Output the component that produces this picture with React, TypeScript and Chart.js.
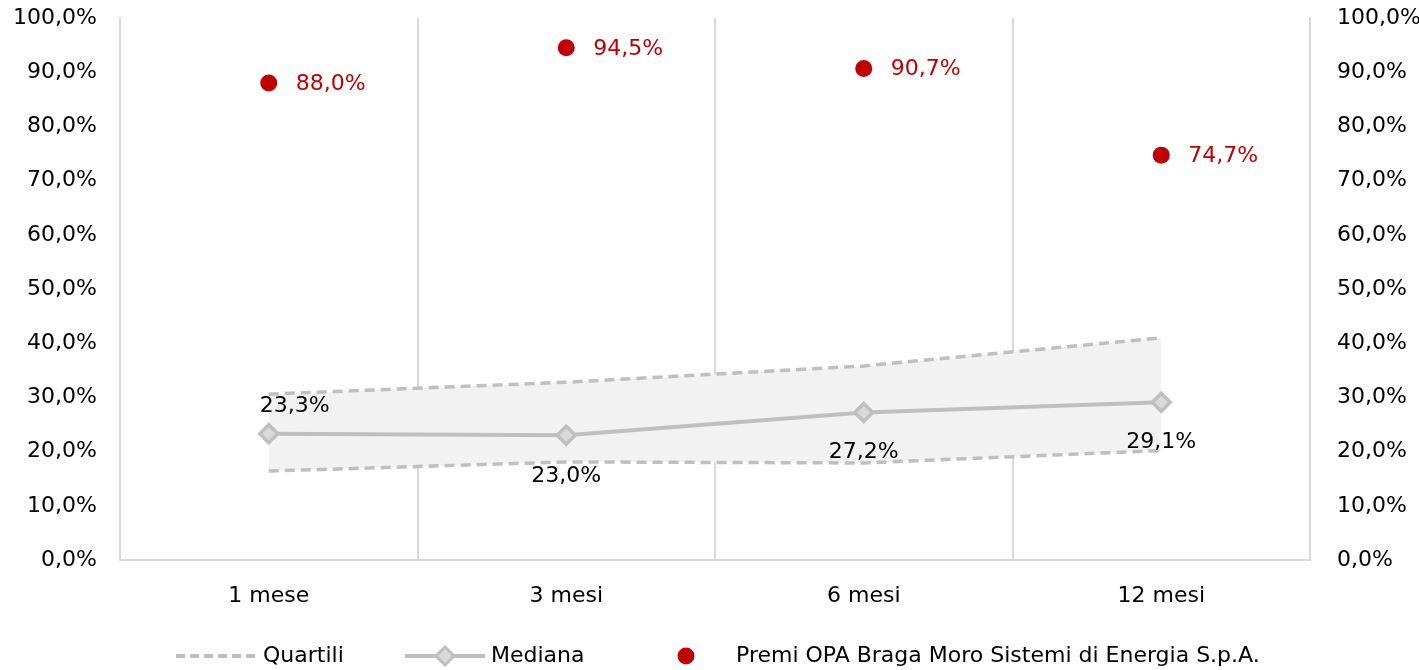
import React, { useEffect, useRef } from "react";
import { Chart, registerables } from "chart.js";

Chart.register(...registerables);

const categories = ["1 mese", "3 mesi", "6 mesi", "12 mesi"];
const upperQuartile = [30.6, 32.8, 35.8, 41.0];
const lowerQuartile = [16.4, 18.1, 17.9, 20.2];
const median = [23.3, 23.0, 27.2, 29.1];
const premi = [88.0, 94.5, 90.7, 74.7];
const yTicks = [0, 10, 20, 30, 40, 50, 60, 70, 80, 90, 100];

const FONT = "'DejaVu Sans', sans-serif";
const FONT_SIZE = 22;
const GRAY = "#BFBFBF";
const RED = "#C00000";
const GRID = "#D9D9D9";

const fmt = (v: number) => v.toFixed(1).replace(".", ",") + "%";

const labelsPlugin = {
  id: "valueLabels",
  afterDatasetsDraw(chart: any) {
    const ctx = chart.ctx;
    ctx.save();
    ctx.font = `${FONT_SIZE}px ${FONT}`;
    ctx.textBaseline = "middle";
    const medMeta = chart.getDatasetMeta(2);
    const offs = [
      [26, -27],
      [0, 41],
      [0, 40],
      [0, 40],
    ];
    ctx.fillStyle = "#000";
    ctx.textAlign = "center";
    medMeta.data.forEach((pt: any, i: number) => {
      ctx.fillText(fmt(median[i]), pt.x + offs[i][0], pt.y + offs[i][1]);
    });
    const pMeta = chart.getDatasetMeta(3);
    ctx.fillStyle = RED;
    ctx.textAlign = "left";
    pMeta.data.forEach((pt: any, i: number) => {
      ctx.fillText(fmt(premi[i]), pt.x + 27, pt.y + 1);
    });
    ctx.restore();
  },
};

const legendPlugin = {
  id: "customLegend",
  afterDraw(chart: any) {
    const ctx = chart.ctx;
    const y = 656;
    ctx.save();
    ctx.font = `${FONT_SIZE}px ${FONT}`;
    ctx.textBaseline = "middle";
    ctx.textAlign = "left";
    ctx.fillStyle = "#000";
    ctx.strokeStyle = GRAY;
    ctx.lineWidth = 4;
    ctx.setLineDash([9, 5]);
    ctx.beginPath();
    ctx.moveTo(176, y);
    ctx.lineTo(258, y);
    ctx.stroke();
    ctx.setLineDash([]);
    ctx.fillText("Quartili", 263, y);
    ctx.beginPath();
    ctx.moveTo(405, y);
    ctx.lineTo(485, y);
    ctx.stroke();
    ctx.beginPath();
    ctx.moveTo(445, y - 9);
    ctx.lineTo(454, y);
    ctx.lineTo(445, y + 9);
    ctx.lineTo(436, y);
    ctx.closePath();
    ctx.fillStyle = "#D9D9D9";
    ctx.fill();
    ctx.lineWidth = 3;
    ctx.stroke();
    ctx.fillStyle = "#000";
    ctx.fillText("Mediana", 491, y);
    ctx.beginPath();
    ctx.arc(686, y, 8.5, 0, Math.PI * 2);
    ctx.fillStyle = RED;
    ctx.fill();
    ctx.fillStyle = "#000";
    ctx.fillText("Premi OPA Braga Moro Sistemi di Energia S.p.A.", 736, y);
    ctx.restore();
  },
};

export default function App() {
  const ref = useRef<HTMLCanvasElement>(null);
  useEffect(() => {
    document.body.style.margin = "0";
    const yScale = (pos: "left" | "right", width: number, pad: number) => ({
      type: "linear" as const,
      position: pos,
      min: 0,
      max: 100,
      afterBuildTicks(scale: any) {
        scale.ticks = yTicks.map((v) => ({ value: v }));
      },
      afterFit(scale: any) {
        scale.width = width;
        scale.paddingTop = 0;
      },
      ticks: {
        padding: pad,
        color: "#000",
        font: { family: FONT, size: FONT_SIZE },
        callback: (v: any) => fmt(Number(v)),
      },
      grid: { display: false, drawTicks: false },
      border: { display: true, color: GRID, width: 2 },
    });
    const chart = new Chart(ref.current!, {
      type: "line",
      data: {
        labels: categories,
        datasets: [
          {
            label: "Quartili",
            data: upperQuartile,
            borderColor: GRAY,
            borderWidth: 3.5,
            borderDash: [10, 6],
            pointRadius: 0,
            fill: "+1",
            backgroundColor: "#F2F2F2",
            tension: 0,
            order: 3,
          },
          {
            label: "Quartili inf",
            data: lowerQuartile,
            borderColor: GRAY,
            borderWidth: 3.5,
            borderDash: [10, 6],
            pointRadius: 0,
            fill: false,
            tension: 0,
            order: 2,
          },
          {
            label: "Mediana",
            data: median,
            borderColor: GRAY,
            borderWidth: 4,
            pointStyle: "rectRot",
            pointRadius: 9,
            pointBackgroundColor: "#D9D9D9",
            pointBorderColor: GRAY,
            pointBorderWidth: 3.5,
            fill: false,
            tension: 0,
            order: 1,
          },
          {
            label: "Premi OPA Braga Moro Sistemi di Energia S.p.A.",
            data: premi,
            showLine: false,
            pointStyle: "circle",
            pointRadius: 8.5,
            pointBackgroundColor: RED,
            pointBorderColor: RED,
            pointBorderWidth: 0,
            fill: false,
            order: 0,
          },
        ],
      },
      options: {
        animation: false,
        responsive: false,
        layout: { padding: { top: 18, left: 0, right: 0, bottom: 0 } },
        plugins: {
          legend: { display: false },
          tooltip: { enabled: false },
          filler: { drawTime: "beforeDatasetsDraw" },
        } as any,
        scales: {
          x: {
            offset: true,
            afterFit(scale: any) {
              scale.height = 110;
            },
            grid: { offset: true, color: GRID, lineWidth: 2, drawTicks: false },
            border: { display: true, color: GRID, width: 2 },
            ticks: {
              padding: 23,
              color: "#000",
              font: { family: FONT, size: FONT_SIZE },
            },
          },
          y: yScale("left", 120, 23),
          y2: yScale("right", 109, 27),
        },
      },
      plugins: [labelsPlugin, legendPlugin],
    });
    return () => chart.destroy();
  }, []);
  return (
    <div style={{ width: 1419, height: 670, background: "#fff" }}>
      <canvas ref={ref} width={1419} height={670} style={{ display: "block" }} />
    </div>
  );
}
